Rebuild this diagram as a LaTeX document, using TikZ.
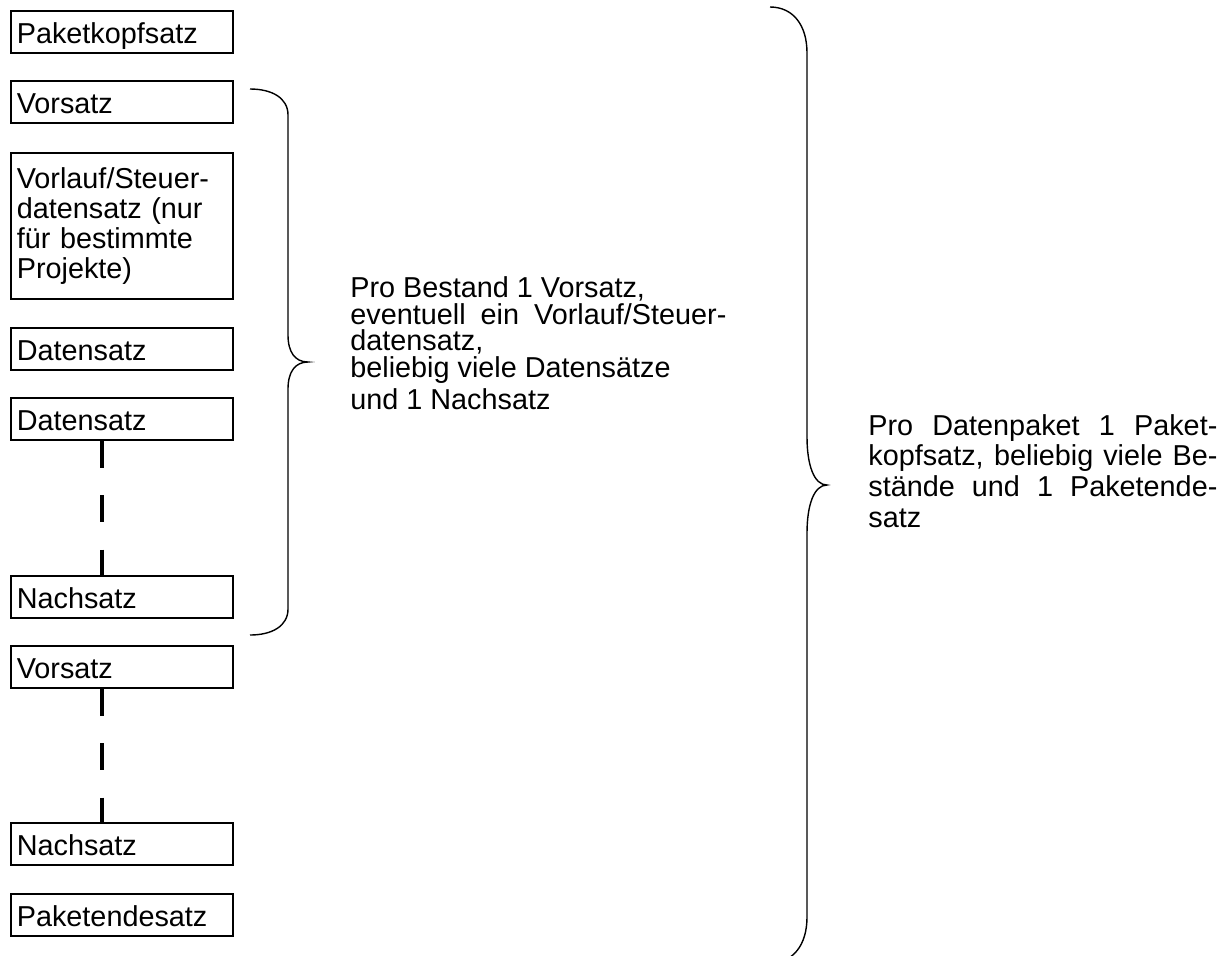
\documentclass[tikz,border=0pt]{standalone}
\usepackage{fontspec}
\setmainfont{Liberation Sans}
\begin{document}
\begin{tikzpicture}[x=0.5pt,y=-0.5pt,
  every node/.style={inner sep=0pt},
  rec/.style={draw, line width=0.85pt, anchor=north west,
    minimum width=111pt, minimum height=21pt, inner xsep=3pt, inner ysep=0pt,
    text width=105pt, align=left, font=\fontsize{14.4}{15}\selectfont},
  oneline/.style={rec, text height=16pt, text depth=4pt},
  seq/.style={line width=2pt, dash pattern=on 13.6pt off 13.6pt},
  curly/.style={line width=0.7pt},
  note/.style={anchor=north west, align=justify}
]
\useasboundingbox (0,0) rectangle (1229,955);

% record boxes of one data packet
\node[oneline] (pk) at (10,10)  {Paketkopfsatz};
\node[oneline] (v1) at (10,80)  {Vorsatz};
\node[rec, minimum height=73pt] (vl) at (10,152)
  {Vorlauf/Steuer-\\datensatz (nur\\für bestimmte\\Projekte)};
\node[oneline] (d1) at (10,327) {Datensatz};
\node[oneline] (d2) at (10,397) {Datensatz};
\node[oneline] (n1) at (10,575) {Nachsatz};
\node[oneline] (v2) at (10,645) {Vorsatz};
\node[oneline] (n2) at (10,822) {Nachsatz};
\node[oneline] (pe) at (10,893) {Paketendesatz};

% repeated records
\draw[seq] ([xshift=46pt]d2.south west) -- ([xshift=46pt]n1.north west);
\draw[seq] ([xshift=46pt]v2.south west) -- ([xshift=46pt]n2.north west);

% brace around one Bestand
\coordinate (sb) at (308,362);
\draw[curly] (250,89) .. controls (272,89) and (288,98) .. (288,115)
  -- (288,335) .. controls (288,352) and (295,362) .. (sb)
  .. controls (295,362) and (288,372) .. (288,389)
  -- (288,609) .. controls (288,626) and (272,635) .. (250,635);

% brace around the whole packet
\coordinate (bb) at (827,485);
\draw[curly] (770,7) .. controls (793,7) and (807,25) .. (807,53)
  -- (807,437) .. controls (807,465) and (814,485) .. (bb)
  .. controls (814,485) and (807,505) .. (807,533)
  -- (807,917) .. controls (807,945) and (793,963) .. (770,963);

% explanations
\node[note, text width=188pt, font=\fontsize{14.4}{13.4}\selectfont] (tb) at (350,276)
  {Pro Bestand 1 Vorsatz,\\
   eventuell ein Vorlauf/Steuer-\linebreak datensatz,\\
   beliebig viele Datensätze\\[1.5pt]
   und 1 Nachsatz};
\node[note, text width=174.5pt, font=\fontsize{14.4}{15.3}\selectfont] (tp) at (868,414)
  {Pro Datenpaket 1 Paket-\linebreak
   kopfsatz, beliebig viele Be-\linebreak
   stände und 1 Paketende-\linebreak
   satz};
\end{tikzpicture}
\end{document}
